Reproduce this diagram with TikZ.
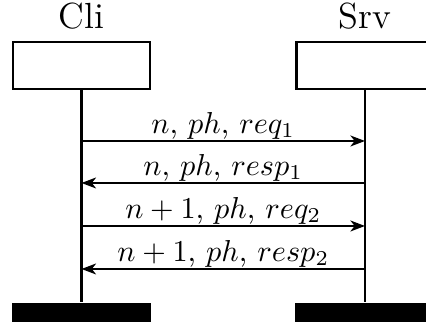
\documentclass[tikz,border=0pt]{standalone}
\usetikzlibrary{arrows.meta}
\begin{document}
\begin{tikzpicture}[x=0.33pt,y=-0.33pt,
  headbox/.style={draw,line width=0.7pt,minimum width=137*0.33pt,minimum height=47*0.33pt,inner sep=0pt},
  footbox/.style={fill=black,minimum width=139*0.33pt,minimum height=26*0.33pt,inner sep=0pt},
  actor/.style={anchor=base,inner sep=0pt,font=\large},
  lifeline/.style={line width=0.7pt},
  msg/.style={line width=0.7pt,-{Stealth[length=4.8pt,width=3.6pt,inset=1.4pt]}},
  lbl/.style={midway,anchor=base,yshift=2.6pt,inner sep=0pt}]
\useasboundingbox (0,0) rectangle (426,322);
\clip (0,0) rectangle (426,322);
\node[actor] (cliname) at (81.5,29) {Cli};
\node[actor] (srvname) at (365,29) {Srv};
\node[headbox] (clibox) at (81.5,65.5) {};
\node[headbox] (srvbox) at (365,65.5) {};
\node[footbox] (clifoot) at (81.5,316) {};
\node[footbox] (srvfoot) at (365,316) {};
\draw[lifeline] (clibox.south) -- (clifoot.north);
\draw[lifeline] (srvbox.south) -- (srvfoot.north);
\coordinate (c1) at (81.5,141); \coordinate (s1) at (365,141);
\coordinate (c2) at (81.5,183); \coordinate (s2) at (365,183);
\coordinate (c3) at (81.5,226); \coordinate (s3) at (365,226);
\coordinate (c4) at (81.5,269); \coordinate (s4) at (365,269);
\draw[msg] (c1) -- node[lbl] {$n$, $ph$, $req_1$} (s1);
\draw[msg] (s2) -- node[lbl] {$n$, $ph$, $resp_1$} (c2);
\draw[msg] (c3) -- node[lbl] {$n+1$, $ph$, $req_2$} (s3);
\draw[msg] (s4) -- node[lbl] {$n+1$, $ph$, $resp_2$} (c4);
\end{tikzpicture}
\end{document}
